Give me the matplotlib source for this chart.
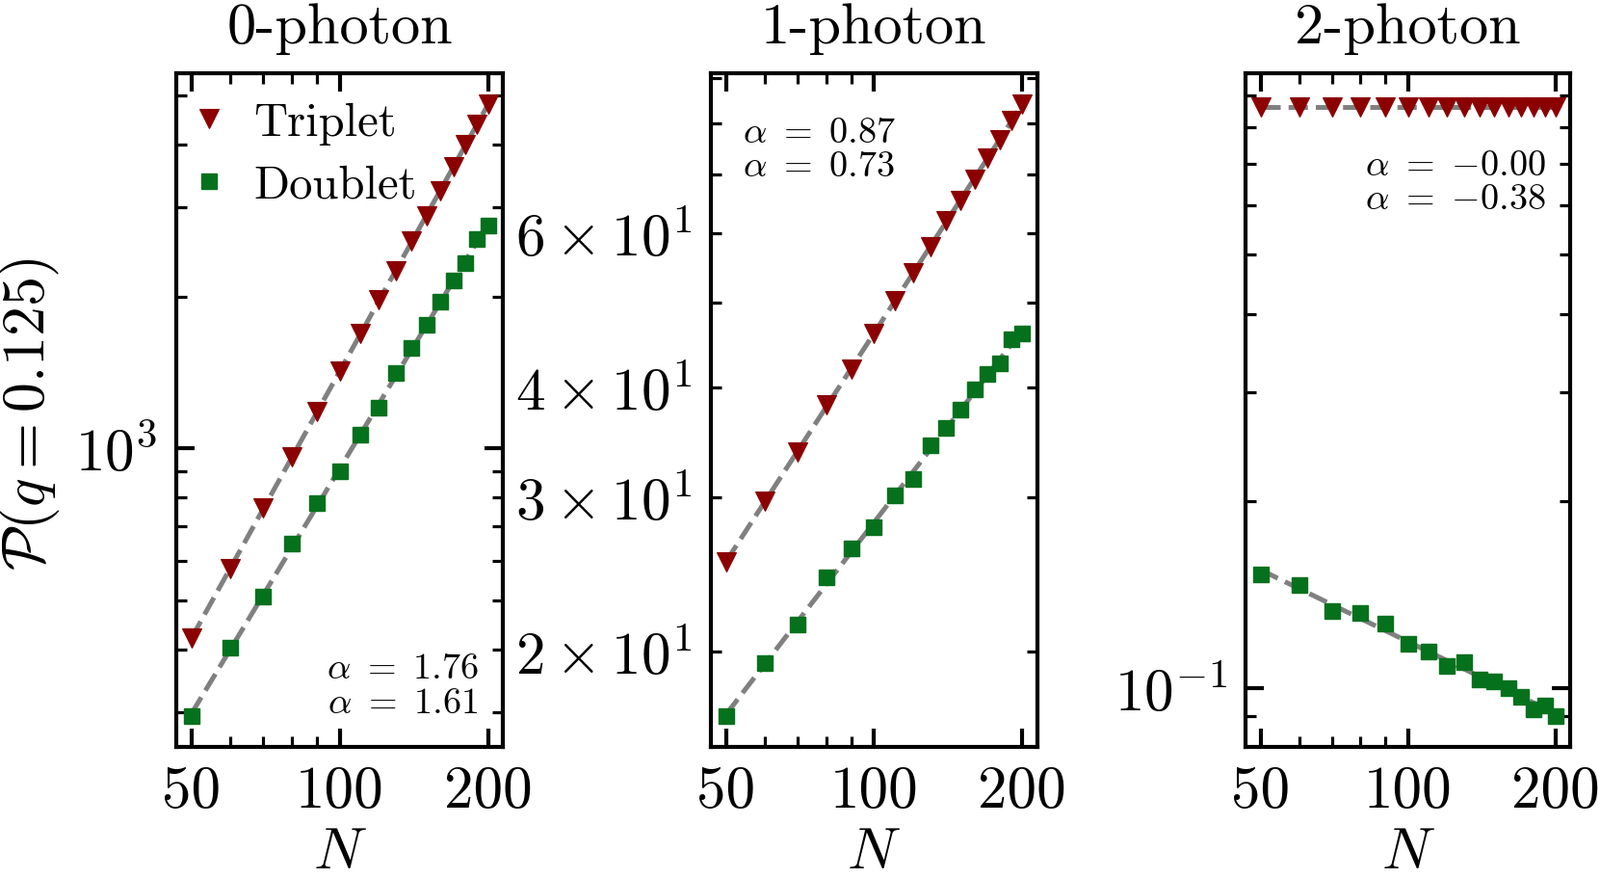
import numpy as np
import matplotlib
matplotlib.use("Agg")
import matplotlib.pyplot as plt
from matplotlib.ticker import FixedLocator, FixedFormatter, LogLocator, NullFormatter

plt.rcParams['font.family'] = 'serif'
plt.rcParams['font.serif'] = ['cmr10']
plt.rcParams['mathtext.fontset'] = 'cm'
plt.rcParams['axes.formatter.use_mathtext'] = True
plt.rcParams['axes.unicode_minus'] = False

# ---------------- data ----------------
N = [50, 60, 70, 80, 90, 100, 110, 120, 130, 140, 150, 160, 170, 180, 190, 200]

titles = ['0-photon', '1-photon', '2-photon']

p0_triplet = [421, 577, 762, 962, 1181, 1420, 1686, 1967, 2246, 2573, 2887, 3240, 3618, 3998, 4383, 4795]
p0_doublet = [295.5, 403, 508.5, 647, 778, 900, 1066, 1206, 1413, 1578, 1757, 1956, 2151, 2329, 2593, 2765]

p1_triplet = [25.3, 29.7, 33.8, 38.2, 42.0, 46.1, 50.2, 54.0, 57.9, 61.9, 65.4, 69.1, 73.1, 76.6, 80.5, 84.1]
p1_doublet = [16.9, 19.4, 21.5, 24.3, 26.2, 27.7, 30.1, 31.5, 34.4, 36.0, 37.7, 39.8, 41.4, 42.6, 45.4, 46.1]

p2_triplet = [0.862, 0.862, 0.862, 0.862, 0.862, 0.862, 0.862, 0.862, 0.862, 0.862, 0.862, 0.862, 0.862, 0.862, 0.862, 0.862]
p2_doublet = [0.1522, 0.1465, 0.1330, 0.1320, 0.1270, 0.1180, 0.1144, 0.1087, 0.1100, 0.1033, 0.1024, 0.0998, 0.0969, 0.0923, 0.0938, 0.0902]

alpha_texts = [(r'$\alpha\ =\ 1.76$', r'$\alpha\ =\ 1.61$'),
               (r'$\alpha\ =\ 0.87$', r'$\alpha\ =\ 0.73$'),
               (r'$\alpha\ =\ {-0.00}$', r'$\alpha\ =\ {-0.38}$')]

x_ticks = [50, 100, 200]
x_ticklabels = ['50', '100', '200']

panel3_ylim = (0.0805, 0.977)

triplets = [p0_triplet, p1_triplet, p2_triplet]
doublets = [p0_doublet, p1_doublet, p2_doublet]

# ---------------- style ----------------
RED = '#8b0000'
GREEN = '#05711d'
GRAY = '#808080'

W, H = 1661, 912
fig = plt.figure(figsize=(W / 100, H / 100), dpi=100)

lefts_px = [183.2, 738.2, 1293.2]
widths_px = [339.0, 338.5, 337.0]
top_px, bot_px = 77.4, 775.5

# text placements (axes fraction): (x, y1, y2, ha)
text_pos = [(0.925, 0.1024, 0.0509, 'right'),
            (0.098, 0.8984, 0.8484, 'left'),
            (0.925, 0.8506, 0.7996, 'right')]

Narr = np.array(N, dtype=float)

for i in range(3):
    ax = fig.add_axes([lefts_px[i] / W, 1 - bot_px / H, widths_px[i] / W, (bot_px - top_px) / H])
    ax.set_xscale('log')
    ax.set_yscale('log')

    for vals in (triplets[i], doublets[i]):
        v = np.array(vals, dtype=float)
        a, b = np.polyfit(np.log10(Narr), np.log10(v), 1)
        fit = 10 ** (b + a * np.log10(Narr))
        ax.plot(Narr, fit, linestyle='--', color=GRAY, lw=3.6, dashes=(4.0, 1.65), zorder=2)

    ax.plot(N, triplets[i], linestyle='none', marker='v', ms=14.8, mew=0.8,
            color=RED, zorder=3, label='Triplet')
    ax.plot(N, doublets[i], linestyle='none', marker='s', ms=11.8, mew=1.0,
            color=GREEN, zorder=3, label='Doublet')

    if i == 2:
        ax.set_ylim(*panel3_ylim)

    ax.xaxis.set_major_locator(FixedLocator(x_ticks))
    ax.xaxis.set_major_formatter(FixedFormatter(x_ticklabels))
    ax.xaxis.set_minor_locator(LogLocator(base=10, subs=np.arange(2, 10)))
    ax.xaxis.set_minor_formatter(NullFormatter())

    ax.tick_params(which='both', direction='in', top=True, right=True, labelsize=44, pad=14)
    ax.tick_params(which='major', length=13.7, width=3)
    ax.tick_params(which='minor', length=8, width=2.3)
    for sp in ax.spines.values():
        sp.set_linewidth(3)

    ax.set_title(titles[i], fontsize=43.5, pad=23)
    ax.set_xlabel(r'$N$', fontsize=44)
    ax.xaxis.set_label_coords(0.5, (bot_px - 858) / (bot_px - top_px))
    ax.xaxis.label.set_verticalalignment('top')

    tx, ty1, ty2, ha = text_pos[i]
    ax.text(tx, ty1, alpha_texts[i][0], transform=ax.transAxes, ha=ha, va='baseline', fontsize=27.5)
    ax.text(tx, ty2, alpha_texts[i][1], transform=ax.transAxes, ha=ha, va='baseline', fontsize=27.5)

    if i == 0:
        ax.set_ylabel(r'$\mathcal{P}(q = 0.125)$', fontsize=44.5)
        ax.yaxis.set_label_coords((64 - lefts_px[0]) / widths_px[0], (bot_px - 430) / (bot_px - top_px))
        ax.legend(loc='upper left', bbox_to_anchor=(0.0566, 0.9586), borderaxespad=0,
                  borderpad=0, frameon=False, handlelength=0.6, handletextpad=0.66,
                  fontsize=35, labelspacing=0.43, numpoints=1)

fig.savefig('out.png', dpi=100)
